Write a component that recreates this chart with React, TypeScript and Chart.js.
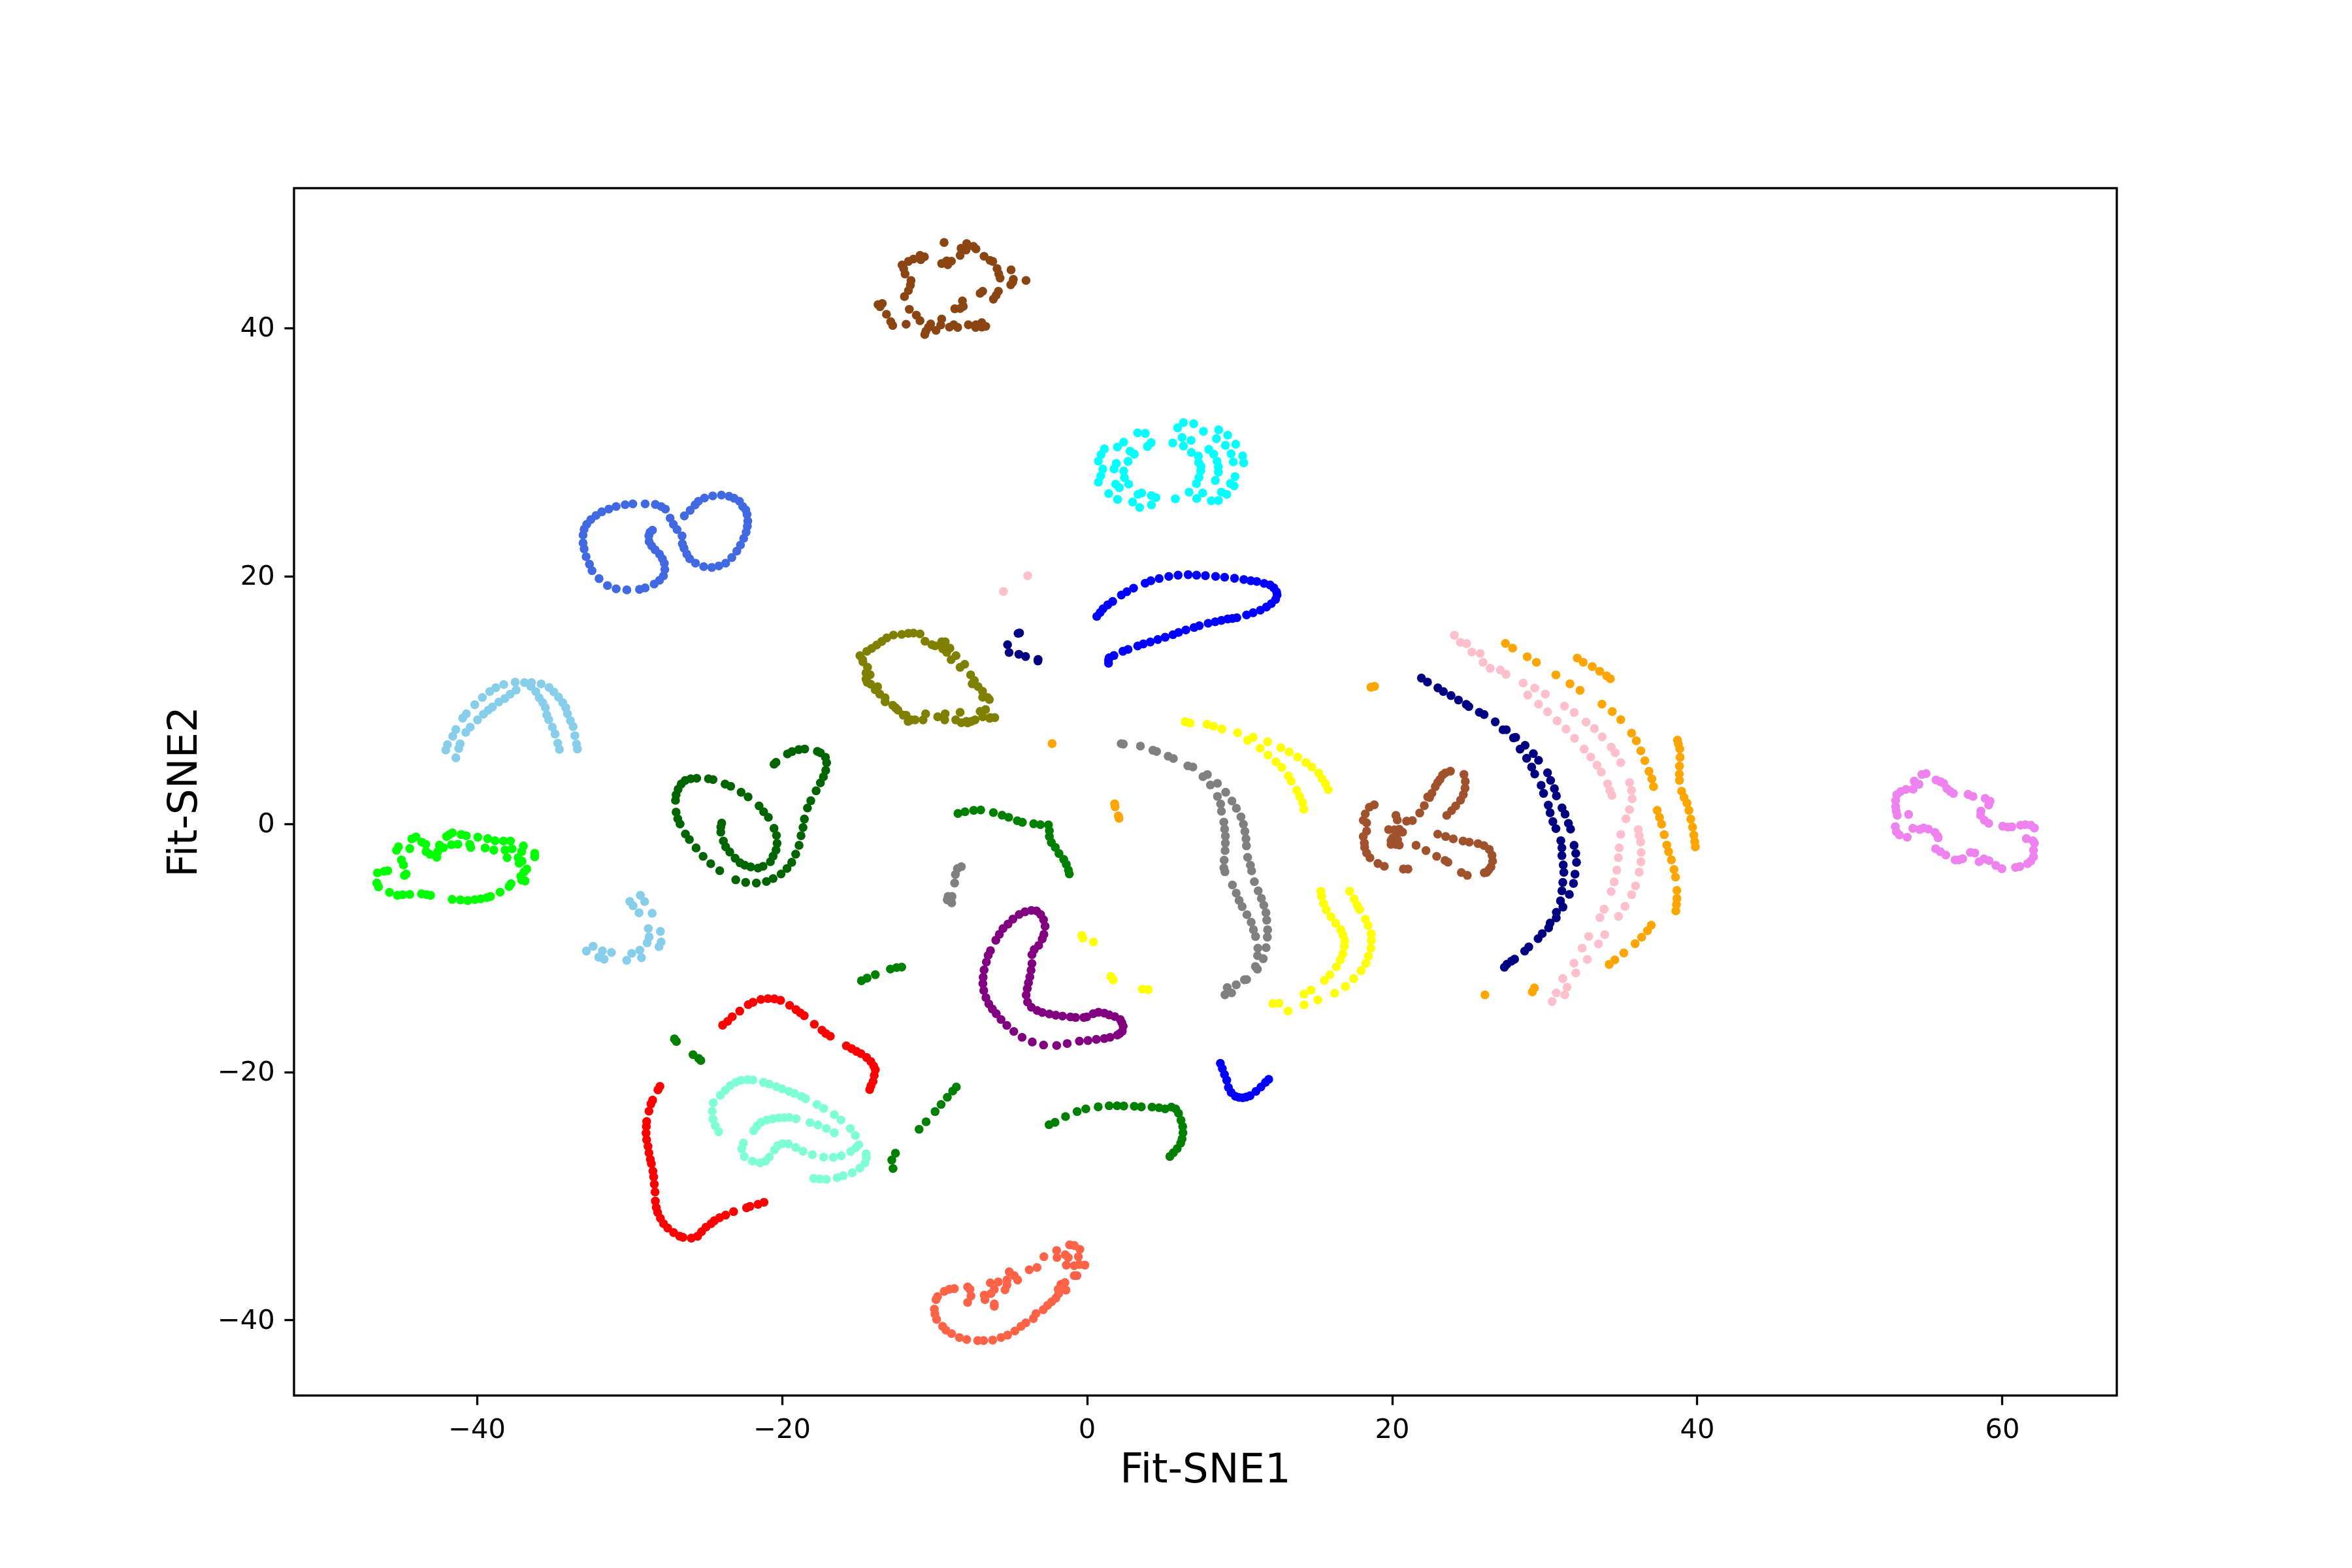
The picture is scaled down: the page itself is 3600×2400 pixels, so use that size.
import React, { useEffect, useRef } from "react";
import { Chart, registerables } from "chart.js";

Chart.register(...registerables);

type P = [number, number];

const xLabel = "Fit-SNE1";
const yLabel = "Fit-SNE2";
const xLimits = [-52, 67.5];
const yLimits = [-46.07, 51.3];
const tickStep = 20;

const royalBlue: P[] = [[-26.41,24.87],[-26.03,25.32],[-25.71,25.75],[-25.49,26.05],[-25.09,26.31],[-24.55,26.48],[-23.98,26.55],[-23.48,26.45],[-23.15,26.29],[-22.8,26.05],[-22.58,25.63],[-22.38,25.35],[-22.3,24.99],[-22.25,24.45],[-22.28,24.03],[-22.36,23.56],[-22.52,23.06],[-22.73,22.52],[-22.97,22.03],[-23.3,21.51],[-23.7,21.06],[-24.15,20.83],[-24.61,20.71],[-25.14,20.78],[-25.68,21.06],[-26.06,21.41],[-26.25,21.79],[-26.43,22.26],[-26.54,22.62],[-26.56,23.25],[-26.89,23.77],[-27.13,24.19],[-27.34,24.69],[-27.65,25.42],[-27.93,25.63],[-28.31,25.79],[-28.98,25.84],[-29.79,25.84],[-30.29,25.77],[-30.88,25.63],[-31.36,25.42],[-31.82,25.2],[-32.2,24.9],[-32.54,24.57],[-32.81,24.19],[-32.98,23.79],[-33.05,23.32],[-33.05,22.69],[-32.98,22.21],[-32.85,21.58],[-32.63,20.97],[-32.46,20.45],[-32,19.81],[-31.45,19.25],[-30.88,18.99],[-30.18,18.9],[-29.35,18.94],[-28.98,19.06],[-28.39,19.37],[-28.04,19.67],[-27.78,20.03],[-27.69,20.54],[-27.72,21.04],[-27.85,21.41],[-28.04,21.79],[-28.33,22.14],[-28.55,22.45],[-28.72,22.8],[-28.74,23.27],[-28.66,23.56],[-28.5,23.72]];

const skyBlueArc: P[] = [[-42.05,5.99],[-41.94,6.42],[-41.59,7.1],[-41.39,7.64],[-40.94,8.56],[-40.7,8.91],[-40.15,9.64],[-39.65,10.23],[-39.17,10.7],[-38.77,11.01],[-38.25,11.27],[-37.5,11.46],[-41.39,5.36],[-41.2,6.11],[-41.11,6.49],[-40.74,7.41],[-40.45,7.83],[-39.97,8.42],[-39.58,8.87],[-39.27,9.2],[-38.99,9.46],[-38.58,9.86],[-38.18,10.14],[-37.83,10.49],[-37.44,10.82],[-36.89,11.43],[-36.43,11.43],[-36.48,11.13],[-36.15,10.7],[-35.93,10.21],[-35.69,9.81],[-35.52,9.41],[-35.43,8.82],[-35.3,8.44],[-35.06,7.83],[-34.88,7.27],[-34.71,6.54],[-34.6,6.04],[-35.8,11.32],[-35.28,11.03],[-34.97,10.68],[-34.66,10.26],[-34.38,9.81],[-34.18,9.39],[-34.07,8.91],[-33.88,8.35],[-33.7,7.88],[-33.59,7.15],[-33.48,6.47],[-33.42,6.07]];

const skyBlueSmall: P[] = [[-29.29,-5.73],[-29.99,-6.22],[-29.77,-6.57],[-29.01,-6.24],[-29.38,-7.14],[-28.52,-7.18],[-28.77,-8.41],[-27.98,-8.64],[-28.72,-9.09],[-27.93,-9.49],[-28.85,-9.56],[-28.07,-9.87],[-29.33,-10.15],[-29.86,-10.41],[-29.22,-10.76],[-30.19,-10.97],[-31.78,-10.2],[-31.19,-10.34],[-32.39,-9.84],[-32.83,-10.22],[-32.02,-10.72],[-31.67,-10.88]];

const lime: P[] = [[-46.53,-3.92],[-46.09,-3.8],[-45.85,-3.75],[-46.57,-4.74],[-46.46,-5.05],[-45.74,-5.49],[-45.22,-5.73],[-44.87,-5.68],[-44.41,-5.66],[-43.64,-5.61],[-43.3,-5.68],[-43.05,-5.73],[-41.63,-6.06],[-41.09,-6.1],[-40.61,-6.15],[-40.15,-6.08],[-39.76,-6.01],[-39.36,-5.92],[-39.12,-5.82],[-38.49,-5.47],[-37.9,-5.02],[-37.77,-4.79],[-37.07,-4.5],[-36.85,-4.57],[-37.13,-4.2],[-36.92,-3.84],[-36.74,-3.61],[-37.24,-3.14],[-37.05,-2.97],[-37.31,-2.69],[-37.07,-2.2],[-36.96,-1.75],[-36.22,-2.34],[-36.22,-2.62],[-38.03,-2.69],[-38.16,-2.08],[-37.7,-1.98],[-37.81,-1.35],[-38.27,-1.35],[-38.82,-1.33],[-39.3,-1.16],[-39.95,-1.04],[-40.7,-0.93],[-41.04,-0.83],[-41.61,-0.69],[-41.81,-0.83],[-42,-0.99],[-41.26,-1.61],[-41.68,-1.65],[-42.2,-1.89],[-42.46,-1.68],[-42.57,-2.2],[-42.64,-2.67],[-43.08,-2.43],[-43.34,-2.2],[-43.36,-1.61],[-43.62,-1.44],[-44,-1.02],[-44.28,-1.18],[-45.15,-1.82],[-45.28,-2.1],[-44.41,-1.96],[-44.96,-2.88],[-44.82,-3.28],[-44.65,-4.01],[-44.76,-4.13],[-40.41,-1.87],[-40.48,-1.61],[-39.47,-1.91],[-38.9,-2.08]];

const darkGreen: P[] = [[-20.53,4.84],[-20.4,4.99],[-19.65,5.67],[-19.35,5.86],[-18.91,6.02],[-18.52,6.07],[-17.69,5.88],[-17.49,5.76],[-17.16,5.41],[-17.08,4.96],[-17.14,4.35],[-17.29,3.83],[-17.49,3.34],[-17.77,2.7],[-18.12,1.9],[-18.34,1.31],[-18.54,0.42],[-18.63,-0.26],[-18.76,-0.92],[-18.89,-1.7],[-19.11,-2.41],[-19.37,-3.07],[-19.68,-3.56],[-20.07,-4.01],[-20.59,-4.38],[-21.03,-4.62],[-21.69,-4.74],[-22.39,-4.69],[-23.04,-4.48],[-24.09,-3.75],[-24.68,-3.18],[-25.18,-2.59],[-25.64,-1.91],[-26.08,-1.23],[-26.34,-0.78],[-26.69,0.02],[-26.84,0.44],[-26.95,0.98],[-26.99,1.93],[-26.95,2.37],[-26.82,2.82],[-26.62,3.24],[-26.36,3.53],[-25.99,3.67],[-25.6,3.71],[-24.83,3.67],[-24.53,3.6],[-23.74,3.24],[-23.37,3.06],[-22.69,2.58],[-22.23,2.21],[-21.51,1.48],[-21.21,1.01],[-20.9,0.56],[-20.53,-0.33],[-20.37,-0.9],[-20.33,-1.54],[-20.4,-2.08],[-20.59,-2.57],[-20.77,-3.02],[-21.25,-3.39],[-21.58,-3.54],[-22.06,-3.44],[-22.45,-3.3],[-22.76,-3.11],[-23.08,-2.74],[-23.43,-2.24],[-23.7,-1.82],[-23.85,-1.35],[-24.02,-0.64],[-24.02,-0.22],[-23.96,0.09]];

const saddleBrown: P[] = [[-9.38,46.92],[-7.9,46.83],[-8.27,46.45],[-7.94,46.31],[-8.33,45.88],[-7.46,46.61],[-7.29,46.4],[-6.76,45.81],[-6.37,45.48],[-6.19,45.39],[-5.91,44.82],[-5.8,44.4],[-5.71,44.05],[-4.99,44.71],[-4.84,43.95],[-4.88,43.72],[-5.01,43.51],[-4.01,43.86],[-6.85,42.99],[-7.02,42.82],[-5.82,42.99],[-5.97,42.66],[-6.15,42.35],[-8.18,42.21],[-8.12,41.76],[-8.33,41.6],[-8.68,41.57],[-10.67,45.77],[-10.96,45.88],[-10.91,45.53],[-11.39,45.58],[-11.72,45.39],[-12.14,45.11],[-12.03,44.82],[-11.94,44.38],[-11.55,43.86],[-11.59,43.48],[-11.72,43.04],[-11.98,42.56],[-8.9,45.41],[-9.21,45.44],[-9.14,45.13],[-9.54,45.22],[-13.43,42],[-13.71,41.91],[-13.58,41.74],[-13.16,41.13],[-12.88,40.54],[-12.75,40.23],[-11.66,41.53],[-11.2,41.06],[-10.96,40.61],[-11.87,40.33],[-9.54,40.75],[-9.6,40.26],[-10.26,40.35],[-10.41,40.07],[-9.91,39.83],[-10.58,39.76],[-10.65,39.5],[-9.03,40.09],[-8.75,40.28],[-8.49,40.07],[-7.79,40.28],[-7.29,40.28],[-7.31,40.07],[-6.91,40.45],[-6.91,40.09],[-6.65,40.16]];

const cyan: P[] = [[6.31,32.4],[5.93,31.97],[6.98,32.3],[7.62,31.69],[6.22,31.2],[6.81,30.96],[5.61,30.75],[6.31,30.51],[6.83,29.99],[7.29,29.69],[7.31,29.17],[7.46,28.86],[7.44,28.51],[7.33,27.97],[7.16,27.48],[7.97,30.23],[8.29,29.85],[8.51,29.29],[8.6,28.82],[8.6,28.4],[8.4,27.73],[8.62,31.81],[9.21,31.38],[8.47,31.1],[9.06,30.56],[9.74,30.65],[9.43,29.88],[10.19,29.71],[9.58,29.22],[10.26,29.15],[9.69,28.04],[9.39,27.48],[9.63,27.29],[6.68,26.79],[7.57,26.72],[8.8,26.79],[9.15,26.6],[7.18,26.27],[8.14,26.09],[8.6,26.11],[5.78,26.25],[4.51,26.35],[4.21,26.51],[4.21,25.76],[3.57,26.72],[3.33,26.6],[2.98,25.99],[3.44,25.55],[1.99,26.2],[1.41,26.67],[2.11,27.15],[1.87,27.43],[2.72,27.43],[2.44,27.95],[2.39,28.49],[1.76,28.65],[1.91,29.1],[2.68,29.27],[3.09,29.85],[2.81,30.09],[1.98,30.42],[2.39,30.82],[3.31,31.57],[3.81,31.52],[4.19,30.77],[3.95,30.47],[1.13,30.28],[0.91,29.81],[0.73,29.29],[1.02,28.65],[0.89,28.09],[0.73,27.59]];

const blueLoop: P[] = [[0.63,16.76],[0.85,17.08],[1.04,17.38],[1.34,17.69],[1.67,17.97],[2.24,18.49],[2.6,18.75],[3.04,19.04],[3.8,19.44],[4.17,19.64],[4.72,19.82],[5.35,19.99],[5.96,20.09],[6.62,20.13],[7.17,20.09],[7.75,20.05],[8.42,19.99],[9.01,19.92],[9.66,19.84],[10.27,19.74],[10.73,19.64],[11.12,19.58],[11.6,19.42],[11.99,19.3],[12.24,19.06],[12.42,18.73],[12.45,18.49],[12.35,18.13],[12.07,17.79],[11.75,17.52],[11.35,17.26],[10.88,17.06],[10.45,16.88],[9.81,16.66],[9.52,16.6],[9.21,16.56],[8.8,16.44],[8.39,16.33],[7.93,16.21],[7.35,16.01],[7.01,15.87],[6.47,15.67],[5.99,15.47],[5.62,15.29],[5.11,15.08],[4.63,14.9],[4.14,14.7],[3.68,14.54],[3.31,14.38],[2.68,14.1],[2.34,13.95],[1.75,13.61],[1.44,13.43],[1.4,13.25],[1.4,12.99]];

const blueHook: P[] = [[8.73,-19.28],[8.86,-19.7],[9,-20.17],[9.15,-20.64],[9.26,-21.23],[9.44,-21.63],[9.72,-21.94],[9.95,-22.03],[10.2,-22.06],[10.43,-22],[10.68,-21.89],[11.06,-21.54],[11.39,-21.19],[11.69,-20.81],[11.9,-20.57]];

const olive: P[] = [[-14.45,13.94],[-14.13,14.18],[-13.8,14.46],[-13.47,14.74],[-13.14,15.03],[-12.7,15.26],[-12.16,15.31],[-11.72,15.4],[-11.39,15.42],[-10.96,15.35],[-10.63,14.76],[-10.19,14.48],[-9.97,14.39],[-9.54,14.72],[-9.47,14.15],[-9.21,13.87],[-14.9,13.6],[-14.7,13.1],[-14.4,12.66],[-14.5,12.2],[-14.5,11.7],[-14.2,11.3],[-13.9,10.85],[-13.6,10.5],[-13.25,10.2],[-12.75,9.6],[-12.4,9.2],[-12.06,8.8],[-11.74,8.3],[-11.53,8.42],[-10.76,8.42],[-9.34,8.42],[-8.25,8.19],[-7.92,8.3],[-7.59,8.3],[-6.39,8.54],[-6.06,8.6],[-6.36,8.61],[-6.66,9.25],[-7.02,9.11],[-6.41,10.06],[-6.53,10.22],[-6.86,10.73],[-7.15,11.1],[-7.4,11.6],[-7.64,12.05],[-8.03,12.9],[-8.6,13.6],[-9,14.2],[-11.87,8.79],[-11.28,8.42],[-10.59,8.91],[-9.8,8.67],[-9.31,8.91],[-8.62,8.42],[-8.33,9.03],[-7.84,8.18],[-7.35,8.42],[-6.85,8.67],[-14.72,13.27],[-14.23,12.06],[-14.42,11.45],[-13.74,11.09],[-13.25,9.88],[-12.56,9.39],[-9.31,14.72],[-8.92,13.27],[-8.33,12.66],[-7.54,11.33],[-6.85,10.24]];

const pinkStray: P[] = [[-3.9,20.04],[-5.49,18.77]];

const pinkArcs: P[] = [[24.07,15.24],[24.47,14.67],[24.88,14.57],[25.22,13.89],[25.77,13.77],[25.95,13.06],[26.42,12.58],[27.09,12.44],[27.46,12.09],[28.58,11.39],[29.34,10.98],[28.88,10.42],[30.03,10.5],[29.59,9.69],[30.18,9.07],[31.29,9.53],[31.93,9.01],[30.81,8.34],[31.39,7.68],[32.71,8.24],[33.25,7.72],[33.76,7.05],[31.95,6.93],[34.35,6.22],[34.62,5.76],[32.58,6.06],[33.01,5.42],[34.98,4.97],[33.42,4.77],[33.71,4.21],[34.12,3.26],[34.26,2.73],[34.4,2.33],[35.56,3.36],[35.69,2.73],[35.73,2.05],[35.55,1.18],[35.32,0.44],[34.98,-0.82],[36.13,-0.43],[36.19,-0.9],[36.28,-1.42],[34.88,-1.9],[36.32,-2.27],[34.82,-2.69],[36.3,-3.03],[34.72,-3.7],[36.19,-3.86],[34.55,-4.65],[34.35,-5.43],[35.95,-4.97],[35.69,-5.68],[33.89,-6.85],[35.26,-6.62],[33.62,-7.53],[34.83,-7.43],[32.88,-9.04],[33.93,-8.9],[33.52,-9.65],[32.45,-9.99],[32.79,-10.9],[31.91,-11.2],[32.03,-11.99],[31.18,-12.45],[31.46,-13.14],[30.75,-13.6],[31.31,-13.76],[30.48,-14.29]];

const navySmall: P[] = [[-4.53,15.39],[-4.43,15.43],[-5.22,14.48],[-5.12,13.85],[-4.48,13.71],[-4.04,13.53],[-3.22,13.29],[-3.23,13.17]];

const navyArc: P[] = [[21.91,11.79],[22.31,11.47],[22.99,11],[23.35,10.7],[23.85,10.38],[24.34,10.02],[24.85,9.67],[25.02,9.49],[25.71,9.03],[26.02,8.85],[26.75,8.26],[27.26,7.62],[27.48,7.62],[27.95,6.97],[28.09,7.01],[28.71,6.37],[28.38,6.06],[28.81,5.32],[29.25,5.7],[29.59,5.16],[29.14,4.61],[29.34,4.05],[30.18,4.15],[30.38,3.54],[29.76,3.14],[29.92,2.49],[30.63,2.88],[30.76,2.29],[30.23,1.54],[30.35,0.92],[31.13,1.32],[31.33,0.82],[30.53,0.21],[30.73,-0.35],[31.55,0.07],[31.69,-0.39],[31.05,-1.32],[31.12,-1.9],[31.12,-2.53],[31.21,-3.28],[31.25,-3.88],[31.18,-4.69],[31.12,-5.37],[31.61,-5.66],[31.92,-1.7],[32.03,-2.35],[32.08,-3.07],[31.98,-4.02],[31.88,-4.77],[31.03,-6.18],[31.19,-6.68],[30.76,-7.09],[30.75,-7.55],[30.35,-7.96],[30.25,-8.36],[29.83,-8.82],[29.56,-9.23],[28.95,-9.89],[28.68,-10.23],[28.02,-10.88],[27.81,-11.04],[27.52,-11.28],[27.35,-11.53]];

const orangeStray: P[] = [[-2.3,6.51],[1.8,1.65],[1.83,1.41],[2.04,0.68],[2.09,0.48],[18.6,11.05],[18.84,11.12],[26.08,-13.76],[29.32,-13.2],[29.18,-13.52]];

const orangeArcs: P[] = [[27.42,14.59],[27.89,14.21],[28.85,13.51],[29.45,13.06],[30.73,12.05],[31.65,11.33],[32.31,10.8],[32.13,13.4],[32.52,13.06],[33.11,12.72],[33.6,12.34],[34.06,11.97],[34.3,11.73],[33.75,9.69],[34.42,9.09],[34.98,8.44],[35.69,7.35],[36,6.73],[36.3,5.92],[36.56,5.13],[36.83,4.27],[37.02,3.66],[37.13,3.04],[38.7,6.79],[38.76,6.47],[38.85,6.08],[38.87,5.4],[38.83,4.69],[38.82,4.05],[38.83,3.54],[38.97,2.67],[39.13,2.17],[39.32,1.71],[39.45,1.12],[39.57,0.41],[39.69,-0.23],[39.77,-0.88],[39.83,-1.4],[39.87,-1.82],[37.37,1.12],[37.52,0.56],[37.66,0.01],[37.83,-0.84],[38,-1.68],[38.12,-2.21],[38.3,-2.87],[38.47,-3.64],[38.57,-4.26],[38.66,-5.33],[38.66,-5.98],[38.63,-6.48],[38.59,-6.99],[36.98,-8.14],[36.73,-8.58],[36.35,-9.11],[35.92,-9.63],[35.18,-10.38],[34.59,-10.94],[34.22,-11.3]];

const sienna: P[] = [[18.82,1.57],[18.5,1.38],[18.23,0.84],[18.1,0.32],[18.32,0.11],[18.32,-0.55],[18.1,-0.99],[18.17,-1.51],[18.19,-1.86],[18.32,-2.31],[18.54,-2.71],[19.06,-3.16],[19.48,-3.39],[20.73,-3.61],[21.03,-3.61],[20.24,0.72],[20.33,0.35],[20.94,0.25],[21.32,0.3],[19.76,-0.43],[20.14,-0.45],[20.46,-0.4],[20.68,-0.64],[20.35,-0.69],[20.03,-1.09],[20.35,-1.25],[19.92,-1.63],[20.24,-1.63],[19.92,-1.32],[20.14,-1.37],[20.46,-1.68],[21.56,-1.7],[22.21,-2.12],[22.1,1.5],[21.8,0.91],[22.45,2.16],[22.32,2.21],[22.6,2.51],[22.82,3.03],[22.98,3.38],[23.13,3.62],[23.3,3.97],[23.48,4.14],[23.81,4.28],[24.7,4.02],[24.79,3.46],[24.77,2.91],[24.66,2.4],[24.48,1.95],[24.16,1.48],[23.89,1.1],[23.57,0.72],[22.98,-0.8],[23.5,-0.99],[24,-1.18],[24.64,-1.35],[25.05,-1.44],[25.62,-1.56],[26.01,-1.72],[26.36,-2.03],[26.54,-2.5],[26.58,-2.97],[26.47,-3.44],[26.32,-3.68],[26.19,-3.87],[26.03,-3.91],[22.91,-2.59],[23.46,-2.92],[23.65,-3.06],[24.53,-3.89],[24.92,-4.12]];

const yellowUpper: P[] = [[6.42,8.27],[6.75,8.17],[7.86,8.07],[8.29,7.9],[8.83,7.68],[9.86,7.38],[10.52,6.77],[10.88,7.02],[11.83,6.65],[11.34,6.13],[11.86,5.58],[12.7,6.17],[13.24,5.83],[13.8,5.42],[14.34,4.98],[14.73,4.62],[12.37,5.04],[12.76,4.58],[13.19,3.89],[13.37,3.47],[15.17,4.13],[15.4,3.67],[15.62,3.26],[15.8,2.8],[13.73,2.74],[13.93,2.24],[14.12,1.75],[14.2,1.21]];

const yellowLower: P[] = [[15.32,-5.41],[15.37,-5.83],[15.49,-6.39],[15.68,-6.9],[15.98,-7.46],[16.29,-7.98],[16.63,-8.51],[16.76,-8.92],[16.88,-9.38],[16.86,-9.84],[16.76,-10.45],[16.6,-10.92],[16.34,-11.49],[15.91,-12.14],[15.55,-12.6],[14.68,-13.37],[14.21,-13.69],[12.58,-14.43],[12.17,-14.46],[13.17,-15.06],[14.22,-14.56],[15.12,-14.17],[17.21,-5.41],[17.5,-6.02],[17.7,-6.53],[17.86,-6.88],[18.24,-7.66],[18.42,-8.16],[18.62,-8.84],[18.63,-9.38],[18.6,-9.99],[18.44,-10.64],[18.27,-11.21],[17.96,-11.8],[17.47,-12.45],[16.93,-13.08],[16.22,-13.63],[-0.36,-8.97],[-0.28,-9.18],[0.41,-9.49],[1.55,-12.27],[1.7,-12.56],[3.62,-13.3],[4.01,-13.34]];

const grayArc: P[] = [[2.23,6.5],[2.37,6.47],[3.49,6.3],[4.31,5.97],[4.55,5.87],[5.31,5.49],[5.65,5.3],[6.6,4.71],[6.93,4.62],[7.59,3.84],[7.88,4.01],[8.08,3.17],[8.54,3.3],[9.08,2.58],[8.54,2.25],[8.75,1.64],[8.8,1.05],[9.49,1.88],[9.78,1.29],[10.08,0.6],[10.24,0.01],[10.34,-0.58],[10.41,-1.17],[10.44,-1.74],[8.96,0.18],[9.01,-0.39],[9.06,-0.95],[9.06,-1.52],[9.04,-2.13],[8.98,-2.89],[8.96,-3.52],[9.03,-3.83],[10.52,-2.67],[10.7,-3.3],[10.78,-3.76],[10.96,-4.63],[11.21,-5.37],[11.42,-5.98],[11.58,-6.53],[11.72,-7.13],[11.77,-7.73],[11.83,-8.51],[11.81,-9.1],[11.73,-9.95],[9.52,-4.89],[9.77,-5.55],[9.96,-6.14],[10.16,-6.64],[10.47,-7.29],[10.75,-7.9],[10.9,-8.51],[11.04,-9.05],[11.19,-9.99],[11.17,-10.6],[11.54,-10.84],[11.03,-11.47],[11.16,-11.69],[10.31,-12.54],[10.45,-12.52],[9.77,-12.95],[9.18,-13.17],[9.47,-13.6],[9.03,-13.75]];

const graySmall: P[] = [[-8.25,-3.42],[-8.51,-3.58],[-8.64,-4.05],[-8.69,-4.74],[-9.12,-5.82],[-8.86,-5.82],[-9.17,-6.1],[-8.88,-6.34],[-9.06,-6.01]];

const greenUpper: P[] = [[-8.47,0.87],[-8.01,1.01],[-7.44,1.12],[-6.98,1.15],[-6.15,0.94],[-5.58,0.73],[-5.15,0.56],[-4.58,0.28],[-4.25,0.16],[-3.51,0.04],[-3.07,-0.03],[-2.54,-0.05],[-2.48,-0.52],[-2.48,-0.99],[-2.35,-1.46],[-2.09,-1.86],[-1.85,-2.36],[-1.54,-2.83],[-1.37,-3.23],[-1.23,-3.7],[-1.17,-4.01]];

const greenShort: P[] = [[-14.8,-12.62],[-14.43,-12.41],[-13.89,-12.13],[-12.9,-11.68],[-12.49,-11.56],[-12.16,-11.52],[-27.06,-17.31],[-26.93,-17.52],[-25.84,-18.58],[-25.47,-18.88],[-25.33,-19.05],[-8.58,-21.19],[-8.82,-21.52],[-9.17,-22.02],[-9.58,-22.6],[-9.97,-23.17],[-10.56,-23.99],[-11.02,-24.6],[-12.57,-26.53],[-12.81,-27.08],[-12.73,-27.76]];

const greenLower: P[] = [[-2.5,-24.23],[-2.11,-24.04],[-1.42,-23.57],[-0.66,-23.17],[-0.09,-22.95],[0.72,-22.79],[1.44,-22.7],[1.96,-22.7],[2.4,-22.72],[3.09,-22.74],[3.55,-22.79],[4.25,-22.81],[4.71,-22.86],[5.11,-22.95],[5.52,-22.81],[5.8,-22.95],[5.99,-23.31],[6.15,-23.87],[6.26,-24.37],[6.28,-24.88],[6.22,-25.36],[6.13,-25.71],[5.9,-26.16],[5.65,-26.49],[5.42,-26.79]];

const purple: P[] = [[-5.99,-9.35],[-5.76,-8.88],[-5.52,-8.41],[-5.19,-8.05],[-4.87,-7.65],[-4.46,-7.28],[-4.08,-7.06],[-3.66,-6.95],[-3.32,-6.99],[-3.05,-7.28],[-2.86,-7.7],[-2.76,-8.22],[-2.84,-8.88],[-2.95,-9.25],[-3.18,-9.77],[-3.47,-10.1],[-3.62,-10.52],[-3.62,-11.23],[-3.68,-11.77],[-3.76,-12.31],[-3.85,-12.78],[-3.93,-13.26],[-4,-13.77],[-3.91,-14.34],[-3.66,-14.76],[-3.28,-15.02],[-2.94,-15.18],[-2.48,-15.3],[-2.06,-15.4],[-1.62,-15.47],[-1.1,-15.54],[-0.76,-15.58],[-0.22,-15.58],[-0.03,-15.54],[0.39,-15.28],[0.74,-15.16],[1.12,-15.23],[1.44,-15.37],[1.81,-15.51],[2.17,-15.75],[2.27,-16],[2.36,-16.29],[2.3,-16.69],[2.13,-16.88],[1.98,-17],[1.5,-17.18],[1.12,-17.28],[0.6,-17.35],[0.05,-17.44],[-0.51,-17.49],[-1.31,-17.68],[-2,-17.84],[-2.86,-17.8],[-3.6,-17.56],[-4.27,-17.18],[-4.81,-16.71],[-5.27,-16.22],[-5.65,-15.75],[-5.96,-15.28],[-6.22,-14.9],[-6.45,-14.48],[-6.64,-13.98],[-6.78,-13.4],[-6.84,-12.85],[-6.82,-12.34],[-6.76,-11.75],[-6.61,-11.11],[-6.49,-10.57],[-6.34,-10.19]];

const red: P[] = [[-23.9,-16.2],[-23.57,-15.89],[-23.27,-15.52],[-22.78,-15.07],[-22.22,-14.55],[-21.91,-14.36],[-21.39,-14.13],[-20.93,-14.06],[-20.51,-14.08],[-20.1,-14.2],[-19.51,-14.6],[-19.09,-14.95],[-18.81,-15.21],[-18.55,-15.44],[-17.89,-16.13],[-17.39,-16.6],[-17.13,-16.88],[-16.84,-17.09],[-15.79,-17.87],[-15.44,-18.1],[-15.12,-18.32],[-14.83,-18.5],[-14.46,-18.81],[-14.18,-19.14],[-14,-19.49],[-13.89,-19.8],[-13.96,-20.25],[-14.04,-20.74],[-14.18,-21.09],[-14.26,-21.4],[-28.01,-21.14],[-28.14,-21.42],[-28.49,-22.25],[-28.6,-22.55],[-28.73,-23.14],[-28.88,-23.97],[-28.9,-24.37],[-28.92,-24.91],[-28.88,-25.45],[-28.79,-25.97],[-28.73,-26.51],[-28.64,-27.03],[-28.57,-27.38],[-28.47,-27.97],[-28.42,-28.44],[-28.38,-29.03],[-28.33,-29.66],[-28.31,-30.39],[-28.25,-30.91],[-28.16,-31.31],[-27.98,-31.78],[-27.77,-32.21],[-27.5,-32.56],[-27.11,-32.93],[-26.72,-33.22],[-26.5,-33.31],[-25.95,-33.38],[-25.54,-33.22],[-25.28,-32.86],[-24.99,-32.49],[-24.66,-32.21],[-24.44,-31.97],[-24.1,-31.73],[-23.7,-31.52],[-23.18,-31.24],[-22.33,-30.93],[-22.11,-30.82],[-21.58,-30.65],[-21.19,-30.49]];

const aquamarine: P[] = [[-24.05,-21.85],[-23.72,-21.45],[-23.4,-21.07],[-23.02,-20.79],[-22.68,-20.65],[-22.26,-20.6],[-21.91,-20.62],[-21.23,-20.81],[-20.86,-20.95],[-20.38,-21.16],[-20.01,-21.33],[-19.55,-21.54],[-19.2,-21.71],[-18.74,-21.94],[-18.46,-22.13],[-17.72,-22.6],[-17.28,-22.91],[-16.58,-23.42],[-16.14,-23.85],[-15.53,-24.53],[-15.2,-25.1],[-24.51,-22.46],[-24.58,-23.14],[-24.53,-23.78],[-24.38,-24.32],[-24.16,-24.79],[-21.87,-24.72],[-21.65,-24.34],[-21.39,-24.04],[-21,-23.85],[-20.6,-23.75],[-20.21,-23.68],[-19.86,-23.66],[-19.53,-23.64],[-19.09,-23.75],[-18.17,-24.06],[-17.65,-24.25],[-17.1,-24.53],[-16.58,-24.88],[-22.54,-25.71],[-22.65,-26.18],[-22.48,-26.79],[-21.95,-27.17],[-21.45,-27.31],[-21.1,-27.17],[-20.84,-26.84],[-20.51,-26.27],[-20.29,-25.92],[-19.97,-25.76],[-19.59,-25.78],[-19.11,-26.06],[-18.63,-26.37],[-18.02,-26.65],[-17.28,-26.84],[-16.64,-26.86],[-16.12,-26.74],[-15.51,-26.39],[-15.16,-26.09],[-14.98,-25.85],[-14.5,-26.58],[-14.48,-26.91],[-14.57,-27.31],[-14.9,-27.73],[-15.4,-28.11],[-15.99,-28.34],[-16.4,-28.51],[-17.1,-28.63],[-17.52,-28.6],[-17.93,-28.56]];

const tomato: P[] = [[-1.15,-33.92],[-0.85,-33.97],[-0.48,-34.28],[-0.58,-34.87],[-2,-34.37],[-1.98,-34.94],[-2.84,-34.87],[-1.44,-34.72],[-1.24,-34.94],[-1.37,-35.55],[-0.85,-35.6],[-0.15,-35.55],[-0.52,-35.5],[-0.85,-36.4],[-0.67,-36.4],[-3.29,-35.74],[-3.8,-35.93],[-5.11,-36.09],[-4.78,-36.4],[-4.56,-36.75],[-5.26,-36.75],[-5.83,-36.91],[-6.35,-36.98],[-5.26,-37.15],[-5.39,-37.55],[-6.09,-37.5],[-6.31,-37.85],[-6.75,-37.97],[-6.7,-38.33],[-6.09,-38.68],[-6.09,-38.87],[-7.84,-37.31],[-7.69,-37.5],[-7.62,-38.04],[-7.84,-38.56],[-8.71,-37.45],[-9.04,-37.5],[-9.37,-37.67],[-9.81,-38.09],[-9.91,-38.33],[-10.02,-39.1],[-9.98,-39.5],[-9.87,-39.93],[-9.48,-40.49],[-9.26,-40.8],[-8.89,-41.08],[-8.38,-41.39],[-7.9,-41.55],[-7.18,-41.64],[-6.79,-41.64],[-6.2,-41.6],[-5.65,-41.39],[-5.22,-41.2],[-4.74,-40.87],[-4.34,-40.49],[-4.02,-40.21],[-3.53,-39.86],[-3.36,-39.46],[-2.88,-39.15],[-2.6,-38.8],[-2.33,-38.51],[-2.05,-38.21],[-1.87,-37.85],[-1.9,-37.5],[-1.39,-37.57],[-1.72,-37.1],[-1.46,-36.96]];

const violet: P[] = [[55,4.09],[54.72,4.01],[54.22,3.48],[54.53,3.23],[54.15,2.83],[53.68,2.81],[53.33,2.64],[53.08,2.39],[53,1.92],[53,1.42],[53.03,1.07],[53.11,0.72],[53.85,0.79],[52.98,-0.19],[53.05,-0.6],[53.25,-0.86],[53.76,-1.05],[54.13,-0.33],[54.58,-0.42],[54.83,-0.3],[55.15,-0.39],[55.58,-0.65],[55.75,-0.95],[55.79,-1.09],[55.65,3.57],[55.93,3.44],[56.15,3.3],[56.36,2.88],[56.58,2.65],[56.79,2.48],[57.75,2.41],[58.07,2.25],[58.87,2.09],[59.19,1.86],[59.1,1.55],[58.59,1.07],[58.57,0.72],[58.82,0.32],[59.1,0.07],[60.02,-0.16],[60.36,-0.23],[60.62,-0.21],[61.19,-0.07],[61.5,-0.03],[61.86,-0.07],[62.1,-0.3],[61.57,-1.16],[62,-1.33],[62.1,-1.53],[62.04,-2.09],[62.04,-2.62],[61.86,-2.97],[61.64,-3.18],[61.14,-3.41],[60.86,-3.48],[59.97,-3.58],[59.57,-3.32],[59.12,-2.93],[58.79,-2.79],[58.47,-3.02],[57.39,-2.78],[57.15,-2.88],[56.9,-2.88],[57.9,-2.27],[58.19,-2.32],[56.29,-2.48],[55.93,-2.21],[55.62,-1.97]];

const groups: [P[], string][] = [
  [royalBlue, "royalblue"],
  [skyBlueArc, "skyblue"],
  [skyBlueSmall, "skyblue"],
  [lime, "lime"],
  [darkGreen, "darkgreen"],
  [saddleBrown, "saddlebrown"],
  [cyan, "cyan"],
  [blueLoop, "blue"],
  [blueHook, "blue"],
  [olive, "olive"],
  [pinkStray, "pink"],
  [pinkArcs, "pink"],
  [navySmall, "navy"],
  [navyArc, "navy"],
  [orangeStray, "orange"],
  [orangeArcs, "orange"],
  [sienna, "sienna"],
  [yellowUpper, "yellow"],
  [yellowLower, "yellow"],
  [grayArc, "gray"],
  [graySmall, "gray"],
  [greenUpper, "green"],
  [greenShort, "green"],
  [greenLower, "green"],
  [purple, "purple"],
  [red, "red"],
  [aquamarine, "aquamarine"],
  [tomato, "tomato"],
  [violet, "violet"],
];

const FONT = "'DejaVu Sans'";
const LINE = 3.33;

const framePlugin = {
  id: "frame",
  afterDraw(chart: any) {
    const { ctx, chartArea: a } = chart;
    ctx.save();
    ctx.strokeStyle = "#000";
    ctx.lineWidth = LINE;
    ctx.strokeRect(a.left, a.top, a.right - a.left, a.bottom - a.top);
    ctx.restore();
  },
};

const axisStyle = (min: number, max: number, label: string, padding: any, labelOffset: number) => ({
  type: "linear" as const,
  min,
  max,
  border: { display: false },
  grid: {
    display: true,
    drawOnChartArea: false,
    drawTicks: true,
    tickLength: 14.6,
    tickWidth: LINE,
    tickColor: "#000",
  },
  ticks: {
    stepSize: tickStep,
    includeBounds: false,
    autoSkip: false,
    maxRotation: 0,
    padding: 14.6,
    labelOffset,
    color: "#000",
    font: { family: FONT, size: 41.67 },
    callback: (v: any) => String(v).replace("-", "\u2212"),
  },
  title: {
    display: true,
    text: label,
    color: "#000",
    font: { family: FONT, size: 62.5 },
    padding,
  },
});

export default function App() {
  const ref = useRef<HTMLCanvasElement | null>(null);
  useEffect(() => {
    const chart = new Chart(ref.current as HTMLCanvasElement, {
      type: "scatter",
      data: {
        datasets: groups.map(([pts, color]) => ({
          data: pts.map(([x, y]) => ({ x, y })),
          backgroundColor: color,
          borderWidth: 0,
          pointRadius: 6.8,
        })),
      },
      options: {
        animation: false,
        responsive: false,
        devicePixelRatio: 1,
        layout: { padding: { left: 0, top: 288, right: 360, bottom: 0 } },
        plugins: { legend: { display: false }, tooltip: { enabled: false }, title: { display: false } },
        scales: {
          x: {
            ...axisStyle(xLimits[0], xLimits[1], xLabel, { top: 0, bottom: 109.5 }, 0),
            afterFit: (s: any) => { s.height = 264; },
          },
          y: {
            ...axisStyle(yLimits[0], yLimits[1], yLabel, { top: 247, bottom: 0 }, 2),
            afterFit: (s: any) => { s.width = 450; },
          },
        },
      },
      plugins: [framePlugin],
    } as any);
    return () => chart.destroy();
  }, []);
  return (
    <canvas
      ref={ref}
      width={3600}
      height={2400}
      style={{ position: "absolute", left: 0, top: 0, width: 3600, height: 2400, background: "#fff" }}
    />
  );
}
